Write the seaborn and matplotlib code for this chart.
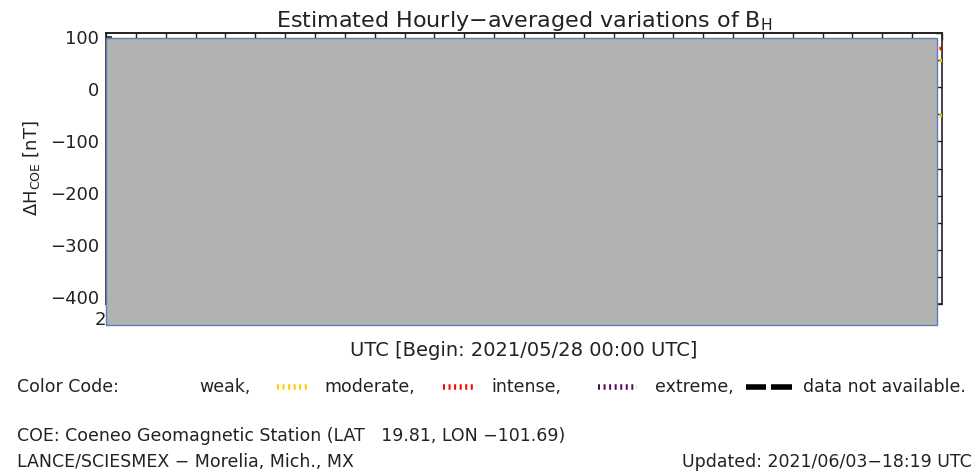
import matplotlib
matplotlib.use("Agg")
import matplotlib.pyplot as plt
import matplotlib.transforms as mtransforms
from matplotlib.patches import Rectangle
from matplotlib.lines import Line2D
import seaborn as sns

# ==========================
# Data
# ==========================
day_labels = ["28", "29", "30", "31", "01", "02", "03"]
day_hours = [0, 24, 48, 72, 96, 120, 144]
y_ticks = [100, 0, -100, -200, -300, -400]
no_data_start = 0      # hours since begin
no_data_end = 167
mark_hours = [167.6, 167.6, 167.6]
mark_values = [80, 56, -50]
mark_colors = ["#ff0000", "#e8c800", "#e8c800"]

legend_names = ["weak,", "moderate,", "intense,", "extreme,", "data not available."]
legend_colors = [None, "#ffcc00", "#ff0000", "#5a0a5a", "black"]

sns.set_theme(style="white")
plt.rcParams["font.family"] = ["DejaVu Sans"]

TXT = "#222222"
fig = plt.figure(figsize=(9.79, 4.74), dpi=100)
ax = fig.add_axes([106 / 979, 1 - 304 / 474, 836 / 979, 271 / 474])

ax.set_xlim(0, 168)
ax.set_ylim(-413, 108)
ax.set_yticks(y_ticks)
ax.set_yticklabels([str(v).replace("-", "\u2212") for v in y_ticks], fontsize=13, color=TXT)
ax.set_xticks(day_hours)
ax.set_xticklabels(day_labels, fontsize=13, color=TXT)
ax.tick_params(axis="both", direction="in", length=4, pad=5)
for s in ax.spines.values():
    s.set_color(TXT)
    s.set_linewidth(1.2)

# top ticks every 6 hours
top = ax.secondary_xaxis("top")
top.set_xticks(range(0, 169, 6))
top.set_xticklabels([])
top.tick_params(direction="in", length=5, width=1, color=TXT)

# right ticks: 10 equal intervals
right = ax.twinx()
right.set_ylim(0, 10)
right.set_yticks(range(0, 11))
right.set_yticklabels([])
right.tick_params(direction="in", length=5, width=1, color=TXT)
for s in right.spines.values():
    s.set_visible(False)

# colour marks at the last hour
for h, v, c in zip(mark_hours, mark_values, mark_colors):
    ax.plot([h - 0.3, h + 0.3], [v, v], color=c, lw=2.5, solid_capstyle="butt", zorder=4)

# no-data grey block
trans = mtransforms.blended_transform_factory(ax.transData, ax.transAxes)
gap = Rectangle((no_data_start, -0.0775), no_data_end - no_data_start, 1.059,
                transform=trans, facecolor="#b2b2b2", edgecolor="#5b7fb8",
                linewidth=1, clip_on=False, zorder=3)
ax.add_patch(gap)
right.set_zorder(ax.get_zorder() - 1)
ax.patch.set_visible(False)

ax.set_title("Estimated Hourly\u2212averaged variations of B$_\\mathregular{H}$",
             fontsize=16, color=TXT, pad=2)
ax.set_ylabel("\u0394H$_\\mathregular{COE}$ [nT]", fontsize=13, color=TXT, labelpad=6)
fig.text(524 / 979, 1 - 351 / 474, "UTC [Begin: 2021/05/28 00:00 UTC]",
         ha="center", va="center", fontsize=14, color=TXT)

# colour code row
row_y = 1 - 387 / 474
fs = 12.5
fig.text(17 / 979, row_y, "Color Code:", va="center", fontsize=fs, color=TXT)
text_x = [199, 324, 491, 655, 803]
sample_x = [None, (277, 310), (443, 476), (598, 637), (746, 792)]


def fig_line(x0, x1, **kw):
    fig.add_artist(Line2D([x0 / 979, x1 / 979], [row_y, row_y],
                          transform=fig.transFigure, **kw))


for name, col, tx, sx in zip(legend_names, legend_colors, text_x, sample_x):
    fig.text(tx / 979, row_y, name, va="center", fontsize=fs, color=TXT)
    if sx is None:
        continue
    if col == "black":
        mid = (sx[0] + sx[1]) / 2
        fig_line(sx[0], mid - 2.5, color=col, lw=4, solid_capstyle="butt")
        fig_line(mid + 2.5, sx[1], color=col, lw=4, solid_capstyle="butt")
    else:
        fig_line(sx[0], sx[1], color=col, lw=4, linestyle=(0, (0.36, 0.64)))

fig.text(17 / 979, 1 - 436 / 474, "COE: Coeneo Geomagnetic Station (LAT   19.81, LON \u2212101.69)",
         va="center", fontsize=fs, color=TXT)
fig.text(17 / 979, 1 - 462 / 474, "LANCE/SCIESMEX \u2212 Morelia, Mich., MX",
         va="center", fontsize=fs, color=TXT)
fig.text(972 / 979, 1 - 462 / 474, "Updated: 2021/06/03\u221218:19 UTC",
         ha="right", va="center", fontsize=fs, color=TXT)

fig.savefig("out.png", dpi=100)
plt.close(fig)
